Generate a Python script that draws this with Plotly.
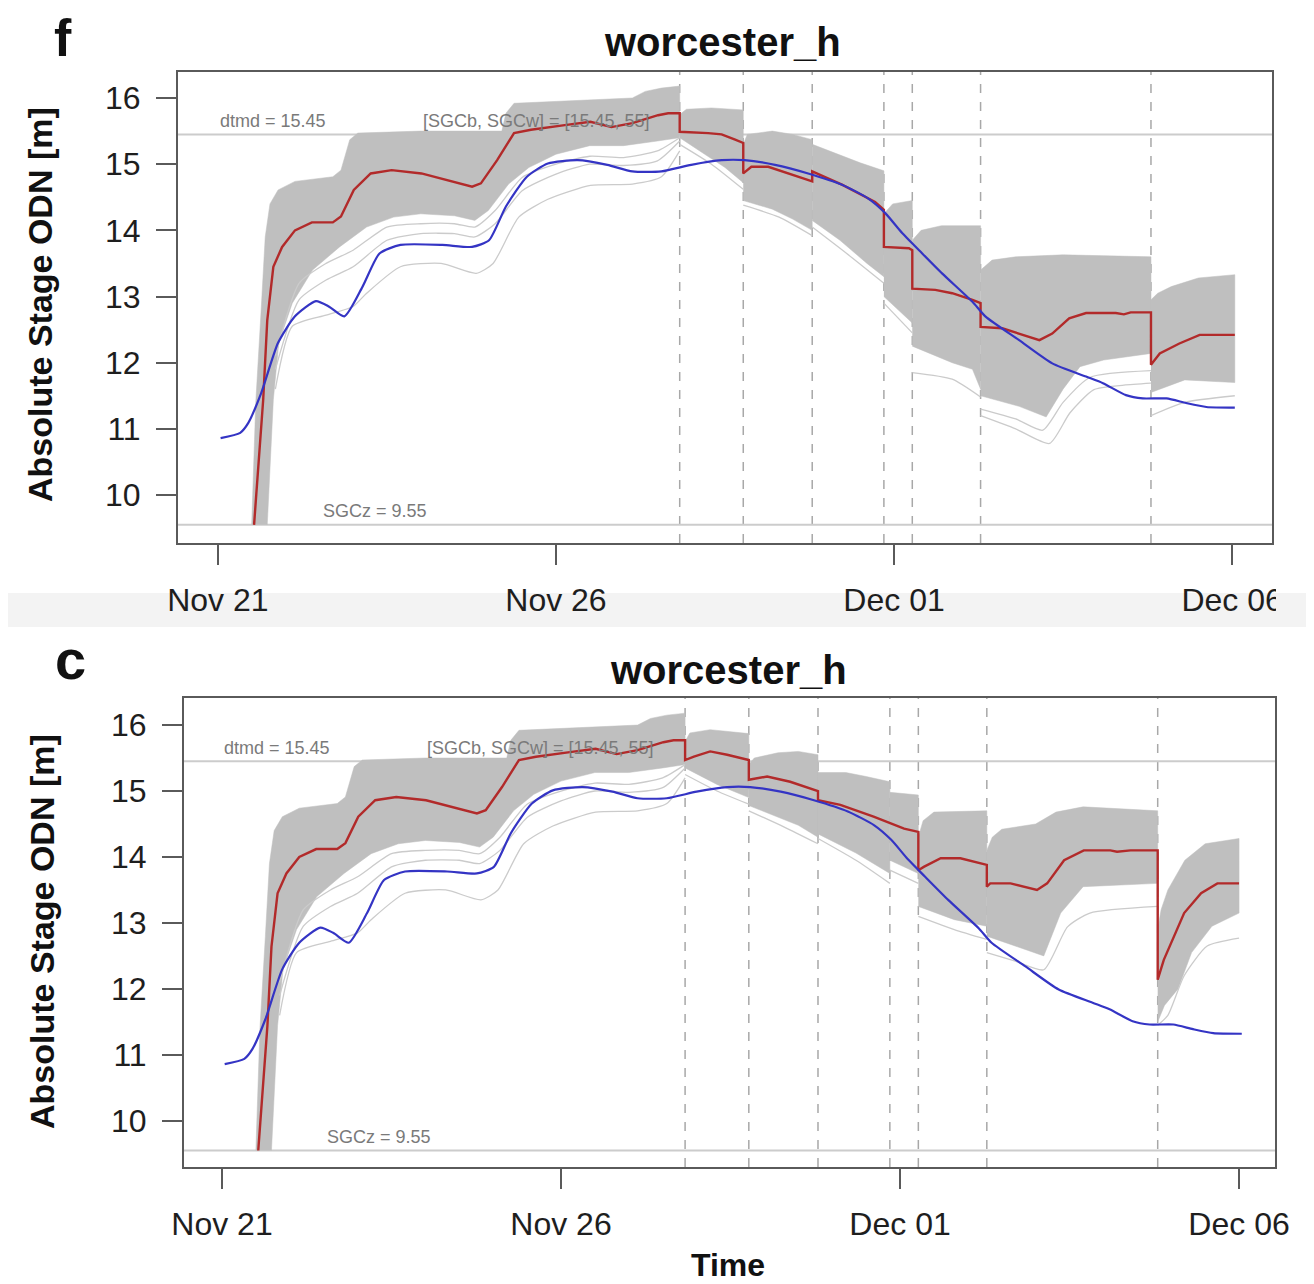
import plotly.graph_objects as go
import pandas as pd

BASE = pd.Timestamp("2012-11-21")
FONT = "Liberation Sans, Arial, sans-serif"

# ---------------- data (days after Nov 21, stage m ODN) ----------------
init_days = [6.83, 7.77, 8.79, 9.85, 10.27, 11.28, 13.8]
tick_days = [0, 5, 10, 15]
tick_text = ["Nov 21", "Nov 26", "Dec 01", "Dec 06"]
y_ticks = [10, 11, 12, 13, 14, 15, 16]
dtmd = 15.45
sgcz = 9.55

obs_days = [0.04, 0.33, 0.45, 0.64, 0.89, 1.14, 1.45, 1.64, 1.87, 2.14, 2.39, 2.70, 3.32, 3.76,
            4.01, 4.26, 4.57, 4.88, 5.32, 5.76, 6.13, 6.56, 7.0, 7.45, 7.79, 8.24, 8.73, 9.23,
            9.62, 9.87, 10.12, 10.37, 10.71, 11.16, 11.35, 11.85, 12.34, 12.84, 13.09, 13.43,
            13.68, 14.03, 14.32, 14.62, 15.04]
obs_stage = [10.86, 10.94, 11.09, 11.54, 12.30, 12.70, 12.93, 12.85, 12.70, 13.15, 13.65, 13.78,
             13.78, 13.75, 13.85, 14.36, 14.81, 15.01, 15.06, 14.99, 14.89, 14.89, 14.99, 15.06,
             15.06, 14.99, 14.86, 14.69, 14.48, 14.26, 13.96, 13.70, 13.35, 12.92, 12.70, 12.34,
             11.99, 11.79, 11.69, 11.51, 11.46, 11.46, 11.39, 11.33, 11.32]

# deterministic (red) run, first forecast part shared by both panels
red_s0 = [(0.535, 9.55), (0.6, 10.5), (0.67, 11.44), (0.73, 12.64), (0.82, 13.45), (0.95, 13.75),
          (1.14, 14.0), (1.39, 14.12), (1.70, 14.12), (1.82, 14.21), (2.01, 14.61), (2.26, 14.86),
          (2.57, 14.91), (3.01, 14.86), (3.38, 14.76), (3.76, 14.66), (3.89, 14.71), (4.13, 15.06),
          (4.38, 15.47), (4.63, 15.52), (5.13, 15.59), (5.51, 15.64), (5.82, 15.56), (6.13, 15.62),
          (6.51, 15.74), (6.66, 15.77), (6.83, 15.77)]
red_f_rest = [(6.83, 15.49), (7.25, 15.47), (7.45, 15.45), (7.65, 15.37), (7.77, 15.32),
              (7.77, 14.86), (7.89, 14.96), (8.14, 14.96), (8.34, 14.89), (8.79, 14.74),
              (8.79, 14.89), (9.23, 14.69), (9.72, 14.43), (9.85, 14.31),
              (9.85, 13.75), (10.22, 13.73), (10.27, 13.70),
              (10.27, 13.12), (10.61, 13.10), (10.86, 13.05), (11.16, 12.95), (11.28, 12.9),
              (11.28, 12.54), (11.6, 12.52), (12.15, 12.34), (12.34, 12.44), (12.59, 12.67),
              (12.84, 12.75), (13.28, 12.75), (13.4, 12.73), (13.5, 12.76), (13.8, 12.76),
              (13.8, 11.97), (13.93, 12.14), (14.22, 12.29), (14.52, 12.42), (15.04, 12.42)]
red_c_rest = [(6.83, 15.47), (6.96, 15.52), (7.2, 15.6), (7.45, 15.55), (7.77, 15.47),
              (7.77, 15.17), (8.04, 15.22), (8.38, 15.14), (8.73, 15.02), (8.79, 15.0),
              (8.79, 14.86), (9.12, 14.79), (9.61, 14.61), (9.85, 14.51), (10.06, 14.43),
              (10.27, 14.38),
              (10.27, 13.8), (10.35, 13.85), (10.6, 13.98), (10.89, 13.98), (11.28, 13.88),
              (11.28, 13.55), (11.33, 13.6), (11.63, 13.6), (12.02, 13.5), (12.17, 13.6),
              (12.42, 13.95), (12.71, 14.1), (13.1, 14.1), (13.2, 14.08), (13.4, 14.1), (13.8, 14.1),
              (13.8, 12.14), (13.89, 12.44), (14.19, 13.15), (14.44, 13.45), (14.68, 13.6),
              (15.0, 13.6)]

# ensemble envelopes: first forecast (shared)
s0_upper = [(0.50, 9.55), (0.56, 11.4), (0.64, 12.8), (0.7, 13.9), (0.77, 14.4), (0.89, 14.61),
            (1.14, 14.74), (1.7, 14.81), (1.82, 14.91), (1.95, 15.37), (2.07, 15.47), (3.0, 15.5),
            (4.2, 15.5), (4.26, 15.77), (4.38, 15.92), (5.51, 15.97), (6.13, 16.0), (6.32, 16.1),
            (6.56, 16.15), (6.83, 16.18)]
s0_lower = [(0.73, 9.55), (0.82, 11.44), (0.9, 12.3), (1.1, 12.9), (1.4, 13.4), (1.8, 13.75),
            (2.2, 14.05), (2.6, 14.2), (3.0, 14.25), (3.5, 14.22), (3.8, 14.15), (4.0, 14.3),
            (4.3, 14.7), (4.6, 14.95), (5.0, 15.15), (5.5, 15.28), (6.0, 15.28), (6.5, 15.35),
            (6.83, 15.4)]
s0_lights = [
    [(0.85, 11.6), (1.1, 12.55), (1.6, 12.72), (2.0, 12.85), (2.2, 13.05), (2.7, 13.45), (3.3, 13.5),
     (3.82, 13.35), (4.07, 13.5), (4.45, 14.2), (4.88, 14.47), (5.51, 14.68), (6.13, 14.7),
     (6.56, 14.81), (6.83, 15.2)],
    [(0.85, 11.9), (1.2, 12.95), (1.6, 13.25), (2.0, 13.45), (2.5, 13.85), (3.0, 13.95), (3.5, 13.95),
     (3.8, 13.9), (4.1, 14.1), (4.5, 14.6), (5.0, 14.85), (5.5, 15.0), (6.0, 14.98), (6.5, 15.05),
     (6.83, 15.35)],
    [(0.85, 12.1), (1.2, 13.2), (1.6, 13.5), (2.0, 13.7), (2.5, 14.05), (3.0, 14.1), (3.5, 14.1),
     (3.8, 14.05), (4.1, 14.3), (4.5, 14.8), (5.0, 15.0), (5.5, 15.12), (6.0, 15.1), (6.5, 15.2),
     (6.83, 15.4)],
]

# later forecasts, panel f
f_upper = [
    [(6.83, 15.75), (6.93, 15.83), (7.3, 15.85), (7.77, 15.82)],
    [(7.77, 15.3), (7.83, 15.45), (8.2, 15.5), (8.5, 15.45), (8.79, 15.37)],
    [(8.79, 15.3), (9.1, 15.18), (9.5, 15.02), (9.85, 14.9)],
    [(9.85, 14.25), (9.98, 14.4), (10.27, 14.45)],
    [(10.27, 13.85), (10.4, 14.0), (10.7, 14.07), (11.28, 14.07)],
    [(11.28, 13.4), (11.45, 13.55), (11.8, 13.6), (12.5, 13.63), (13.8, 13.6)],
    [(13.8, 12.95), (13.9, 13.05), (14.1, 13.15), (14.5, 13.28), (15.04, 13.33)],
]
f_lower = [
    [(6.83, 15.4), (7.2, 15.15), (7.5, 14.95), (7.77, 14.72)],
    [(7.77, 14.45), (8.2, 14.32), (8.5, 14.17), (8.79, 14.0)],
    [(8.79, 14.15), (9.2, 13.85), (9.6, 13.5), (9.85, 13.3)],
    [(9.85, 13.0), (10.27, 12.6)],
    [(10.27, 12.25), (10.86, 12.0), (11.16, 11.9), (11.28, 11.6)],
    [(11.28, 11.5), (11.85, 11.34), (12.25, 11.18), (12.5, 11.6), (12.75, 11.94), (13.1, 12.04),
     (13.8, 12.14)],
    [(13.8, 11.55), (14.3, 11.74), (15.04, 11.7)],
]
f_lights = [
    [(6.83, 15.3), (7.3, 15.0), (7.77, 14.62)],
    [(7.77, 14.38), (8.3, 14.2), (8.79, 13.92)],
    [(8.79, 14.05), (9.3, 13.65), (9.85, 13.2)],
    [(9.85, 12.9), (10.27, 12.45)],
    [(10.27, 11.85), (10.86, 11.75), (11.28, 11.48)],
    [(11.28, 11.2), (11.8, 11.0), (12.3, 10.78), (12.6, 11.24), (12.95, 11.59), (13.4, 11.66),
     (13.8, 11.69)],
    [(11.28, 11.3), (11.8, 11.15), (12.2, 10.98), (12.5, 11.4), (12.9, 11.78), (13.8, 11.88)],
    [(13.8, 11.2), (14.3, 11.4), (15.04, 11.5)],
]

# later forecasts, panel c
c_upper = [
    [(6.83, 15.75), (6.9, 15.88), (7.2, 15.93), (7.77, 15.87)],
    [(7.77, 15.4), (7.85, 15.5), (8.2, 15.58), (8.5, 15.6), (8.79, 15.55)],
    [(8.79, 15.28), (9.2, 15.28), (9.5, 15.22), (9.85, 15.14)],
    [(9.85, 14.98), (10.27, 14.94)],
    [(10.27, 14.3), (10.34, 14.55), (10.5, 14.68), (11.28, 14.7)],
    [(11.28, 14.1), (11.36, 14.3), (11.5, 14.42), (12.0, 14.5), (12.3, 14.68), (12.7, 14.76),
     (13.8, 14.7)],
    [(13.8, 12.9), (13.85, 13.2), (13.95, 13.5), (14.2, 13.95), (14.5, 14.2), (15.0, 14.28)],
]
c_lower = [
    [(6.83, 15.35), (7.3, 15.1), (7.77, 14.9)],
    [(7.77, 14.78), (8.2, 14.6), (8.5, 14.48), (8.79, 14.3)],
    [(8.79, 14.35), (9.35, 14.06), (9.85, 13.75)],
    [(9.85, 13.95), (10.27, 13.75)],
    [(10.27, 13.25), (10.8, 13.05), (11.28, 12.95)],
    [(11.28, 12.8), (11.73, 12.64), (12.12, 12.5), (12.37, 13.15), (12.7, 13.55), (13.8, 13.6)],
    [(13.8, 11.5), (13.9, 11.75), (14.1, 12.0), (14.3, 12.55), (14.6, 12.95), (15.0, 13.15)],
]
c_lights = [
    [(6.83, 15.25), (7.3, 15.0), (7.77, 14.8)],
    [(7.77, 14.7), (8.3, 14.45), (8.79, 14.2)],
    [(8.79, 14.28), (9.35, 13.95), (9.85, 13.6)],
    [(9.85, 13.8), (10.27, 13.6)],
    [(10.27, 13.1), (10.8, 12.9), (11.28, 12.75)],
    [(11.28, 12.55), (11.7, 12.42), (12.12, 12.29), (12.47, 12.94), (12.8, 13.15), (13.8, 13.25)],
    [(13.8, 11.45), (13.95, 11.6), (14.19, 12.2), (14.53, 12.65), (15.0, 12.77)],
]

# ---------------- helpers ----------------
def T(days):
    return [(BASE + pd.Timedelta(days=float(d))).strftime("%Y-%m-%d %H:%M:%S") for d in days]

GRAY_FILL = "#bfbfbf"
LIGHT = "#cbcbcb"
RED = "#b22a2a"
BLUE = "#3434c4"

fig = go.Figure()

def add_panel(xa, ya, uppers, lowers, lights, red):
    for up, lo in zip(uppers, lowers):
        xs = [p[0] for p in up] + [p[0] for p in lo[::-1]]
        ys = [p[1] for p in up] + [p[1] for p in lo[::-1]]
        fig.add_trace(go.Scatter(x=T(xs), y=ys, xaxis=xa, yaxis=ya, mode="lines", fill="toself",
                                 fillcolor=GRAY_FILL, line=dict(color=GRAY_FILL, width=0.5),
                                 hoverinfo="skip", showlegend=False))
    for ln in lights:
        fig.add_trace(go.Scatter(x=T([p[0] for p in ln]), y=[p[1] for p in ln], xaxis=xa, yaxis=ya,
                                 mode="lines", line=dict(color=LIGHT, width=1.3, shape="spline",
                                                         smoothing=0.6),
                                 hoverinfo="skip", showlegend=False))
    fig.add_trace(go.Scatter(x=T([p[0] for p in red]), y=[p[1] for p in red], xaxis=xa, yaxis=ya,
                             mode="lines", line=dict(color=RED, width=2.4), showlegend=False))
    fig.add_trace(go.Scatter(x=T(obs_days), y=obs_stage, xaxis=xa, yaxis=ya, mode="lines",
                             line=dict(color=BLUE, width=2.2, shape="spline", smoothing=0.6),
                             showlegend=False))

add_panel("x", "y", [s0_upper] + f_upper, [s0_lower] + f_lower, s0_lights + f_lights, red_s0 + red_f_rest)
add_panel("x2", "y2", [s0_upper] + c_upper, [s0_lower] + c_lower, s0_lights + c_lights, red_s0 + red_c_rest)

W, H = 1314, 1284
OFF = 8  # page body margin around the figure


def PX(x):
    return (x - OFF) / W


def PY(y):
    return 1 - (y - OFF) / H


panels = {
    "f": dict(xa="x", ya="y", px=(178, 1272), py=(72, 543), xr=(-0.59, 15.59), yr=(9.275, 16.393)),
    "c": dict(xa="x2", ya="y2", px=(184, 1275), py=(698, 1167), xr=(-0.56, 15.53), yr=(9.30, 16.41)),
}

axis_common = dict(showgrid=False, zeroline=False, showline=True, mirror=True, automargin=False,
                   linecolor="#5a5a5a", linewidth=2, ticks="outside", ticklen=20, tickwidth=2,
                   tickcolor="#5a5a5a", tickfont=dict(family=FONT, size=32, color="#1e1e1e"))

layout_axes = {}
shapes = []
annotations = []
for key, p in panels.items():
    xname = "xaxis" if p["xa"] == "x" else "xaxis2"
    yname = "yaxis" if p["ya"] == "y" else "yaxis2"
    layout_axes[xname] = dict(axis_common, type="date",
                              domain=[PX(p["px"][0]), PX(p["px"][1])],
                              range=T(p["xr"]), tickvals=T(tick_days), ticktext=tick_text,
                              anchor=p["ya"], ticklabelstandoff=8)
    layout_axes[yname] = dict(axis_common, domain=[PY(p["py"][1]), PY(p["py"][0])],
                              range=list(p["yr"]), tickvals=y_ticks,
                              ticktext=[str(v) for v in y_ticks], anchor=p["xa"],
                              ticklabelstandoff=9)
    xref, yref = p["xa"], p["ya"]
    for d in init_days:
        shapes.append(dict(type="line", xref=xref, yref=yref + " domain", x0=T([d])[0], x1=T([d])[0],
                           y0=0, y1=1, line=dict(color="#a8a8a8", width=1.5, dash="dash"),
                           layer="below"))
    for lvl in (dtmd, sgcz):
        shapes.append(dict(type="line", xref=xref + " domain", yref=yref, x0=0, x1=1, y0=lvl, y1=lvl,
                           line=dict(color="#cccccc", width=2), layer="below"))
    small = dict(family=FONT, size=18, color="#7a7a7a")
    annotations += [
        dict(xref=xref, yref=yref, x=T([0.0])[0], y=dtmd + 0.02, text="dtmd = 15.45", showarrow=False,
             xanchor="left", yanchor="bottom", font=small),
        dict(xref=xref, yref=yref, x=T([3.0])[0], y=dtmd + 0.02, text="[SGCb, SGCw] = [15.45, 55]",
             showarrow=False, xanchor="left", yanchor="bottom", font=small),
        dict(xref=xref, yref=yref, x=T([1.52])[0], y=sgcz + 0.02, text="SGCz = 9.55", showarrow=False,
             xanchor="left", yanchor="bottom", font=small),
    ]

title_font = dict(family=FONT, size=40, color="#111")
ylab_font = dict(family=FONT, size=34, color="#111")
ctr = dict(showarrow=False, xanchor="center", yanchor="middle", xref="paper", yref="paper")
annotations += [
    dict(ctr, x=PX(63), y=PY(38), text="<b>f</b>", font=dict(family=FONT, size=52, color="#111")),
    dict(ctr, x=PX(70), y=PY(660), text="<b>c</b>", font=dict(family=FONT, size=56, color="#111")),
    dict(ctr, x=PX(722), y=PY(42), text="<b>worcester_h</b>", font=title_font),
    dict(ctr, x=PX(728), y=PY(670), text="<b>worcester_h</b>", font=title_font),
    dict(ctr, x=PX(40), y=PY(305), text="<b>Absolute Stage ODN [m]</b>", textangle=-90, font=ylab_font),
    dict(ctr, x=PX(42), y=PY(932), text="<b>Absolute Stage ODN [m]</b>", textangle=-90, font=ylab_font),
    dict(ctr, x=PX(728), y=PY(1265), text="<b>Time</b>", font=dict(family=FONT, size=32, color="#111")),
]

# screenshot seam between the two panels and crop of the upper image at the right
shapes += [
    dict(type="rect", xref="paper", yref="paper", x0=0, x1=1, y0=PY(627), y1=PY(593),
         fillcolor="#f3f3f3", line=dict(width=0), layer="below"),
    dict(type="rect", xref="paper", yref="paper", x0=PX(1276), x1=1, y0=PY(593), y1=1,
         fillcolor="white", line=dict(width=0), layer="above"),
    dict(type="rect", xref="paper", yref="paper", x0=PX(1276), x1=1, y0=PY(627), y1=PY(593),
         fillcolor="#f3f3f3", line=dict(width=0), layer="above"),
]

fig.update_layout(width=W, height=H, margin=dict(l=0, r=0, t=0, b=0), paper_bgcolor="white",
                  plot_bgcolor="white", showlegend=False, shapes=shapes, annotations=annotations,
                  **layout_axes)

fig.write_html("out.html")
